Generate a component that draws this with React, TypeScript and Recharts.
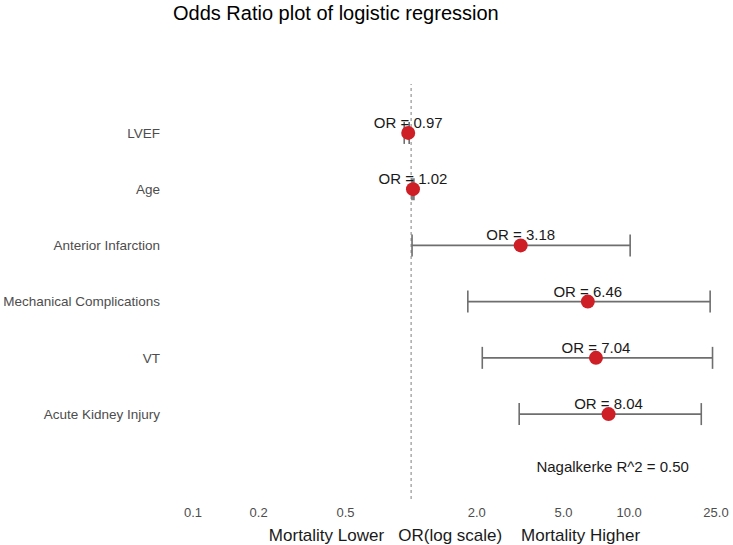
import React from 'react';
import {
  ScatterChart,
  Scatter,
  XAxis,
  YAxis,
  ErrorBar,
  ReferenceLine,
  ReferenceDot,
} from 'recharts';

const categories = [
  'LVEF',
  'Age',
  'Anterior Infarction',
  'Mechanical Complications',
  'VT',
  'Acute Kidney Injury',
];
const orValues = [0.97, 1.02, 3.18, 6.46, 7.04, 8.04];
const ciLower = [0.93, 1.01, 1.01, 1.82, 2.12, 3.13];
const ciUpper = [0.98, 1.03, 10.1, 23.5, 24.1, 21.4];
const xTicks = [0.1, 0.2, 0.5, 2, 5, 10, 25];
const rowPositions = [1, 2, 3, 4, 5, 6];
const titleText = 'Odds Ratio plot of logistic regression';
const xAxisTitle = 'Mortality Lower   OR(log scale)    Mortality Higher';
const r2Text = 'Nagalkerke R^2 = 0.50';
const r2Position = { x: 8.4, y: 6.94 };

const data = categories.map((name, i) => ({
  name,
  or: orValues[i],
  row: rowPositions[i],
  err: [orValues[i] - ciLower[i], ciUpper[i] - orValues[i]],
}));

const FONT = '"Liberation Sans", Arial, sans-serif';

const PointShape = (props: any) => {
  const { cx, cy, payload } = props;
  return (
    <g>
      <circle cx={cx} cy={cy} r={7} fill="#CE1F26" />
      <text
        x={cx}
        y={cy - 5}
        textAnchor="middle"
        fontSize={15}
        fontFamily={FONT}
        fill="#1a1a1a"
      >
        {`OR = ${payload.or.toFixed(2)}`}
      </text>
    </g>
  );
};

const AxisTitle = (props: any) => {
  const { viewBox } = props;
  const cx = viewBox.x + viewBox.width / 2;
  return (
    <text
      x={cx}
      y={541}
      textAnchor="middle"
      fontSize={17}
      fontFamily={FONT}
      fill="#1a1a1a"
      style={{ whiteSpace: 'pre' }}
      xmlSpace="preserve"
    >
      {xAxisTitle}
    </text>
  );
};

export default function App() {
  return (
    <div style={{ position: 'relative', width: 733, height: 545, background: '#fff' }}>
      <style>{'body{margin:0;}'}</style>
      <div
        style={{
          position: 'absolute',
          left: 173,
          top: 2,
          fontFamily: FONT,
          fontSize: 20,
          lineHeight: '22px',
          color: '#000',
          whiteSpace: 'nowrap',
        }}
      >
        {titleText}
      </div>
      <ScatterChart
        width={733}
        height={545}
        margin={{ top: 84, right: 17, left: 0, bottom: 0 }}
      >
        <XAxis
          type="number"
          dataKey="or"
          scale="log"
          domain={[0.1, 25]}
          ticks={xTicks}
          allowDataOverflow
          axisLine={false}
          tickLine={false}
          tickSize={0}
          tickMargin={9}
          height={46}
          tick={{ fontSize: 13, fill: '#4d4d4d', fontFamily: FONT }}
          tickFormatter={(v: number) => v.toFixed(1)}
          label={<AxisTitle />}
          interval={0}
        />
        <YAxis
          type="number"
          dataKey="row"
          domain={[0.13, 7.51]}
          reversed
          ticks={rowPositions}
          allowDataOverflow
          axisLine={false}
          tickLine={false}
          tickSize={0}
          tickMargin={33}
          width={193}
          interval={0}
          tick={{ fontSize: 13.5, fill: '#4d4d4d', fontFamily: FONT }}
          tickFormatter={(v: number) => categories[v - 1]}
        />
        <ReferenceLine x={1} stroke="#7f7f7f" strokeDasharray="3 3" strokeWidth={1} />
        <Scatter data={data} isAnimationActive={false} shape={<PointShape />}>
          <ErrorBar
            dataKey="err"
            direction="x"
            width={11}
            stroke="#6e6e6e"
            strokeWidth={1.6}
            isAnimationActive={false}
          />
        </Scatter>
        <ReferenceDot
          x={r2Position.x}
          y={r2Position.y}
          r={0}
          fill="none"
          stroke="none"
          ifOverflow="visible"
          label={{
            value: r2Text,
            position: 'center',
            fontSize: 15,
            fill: '#1a1a1a',
            fontFamily: FONT,
          }}
        />
      </ScatterChart>
    </div>
  );
}
